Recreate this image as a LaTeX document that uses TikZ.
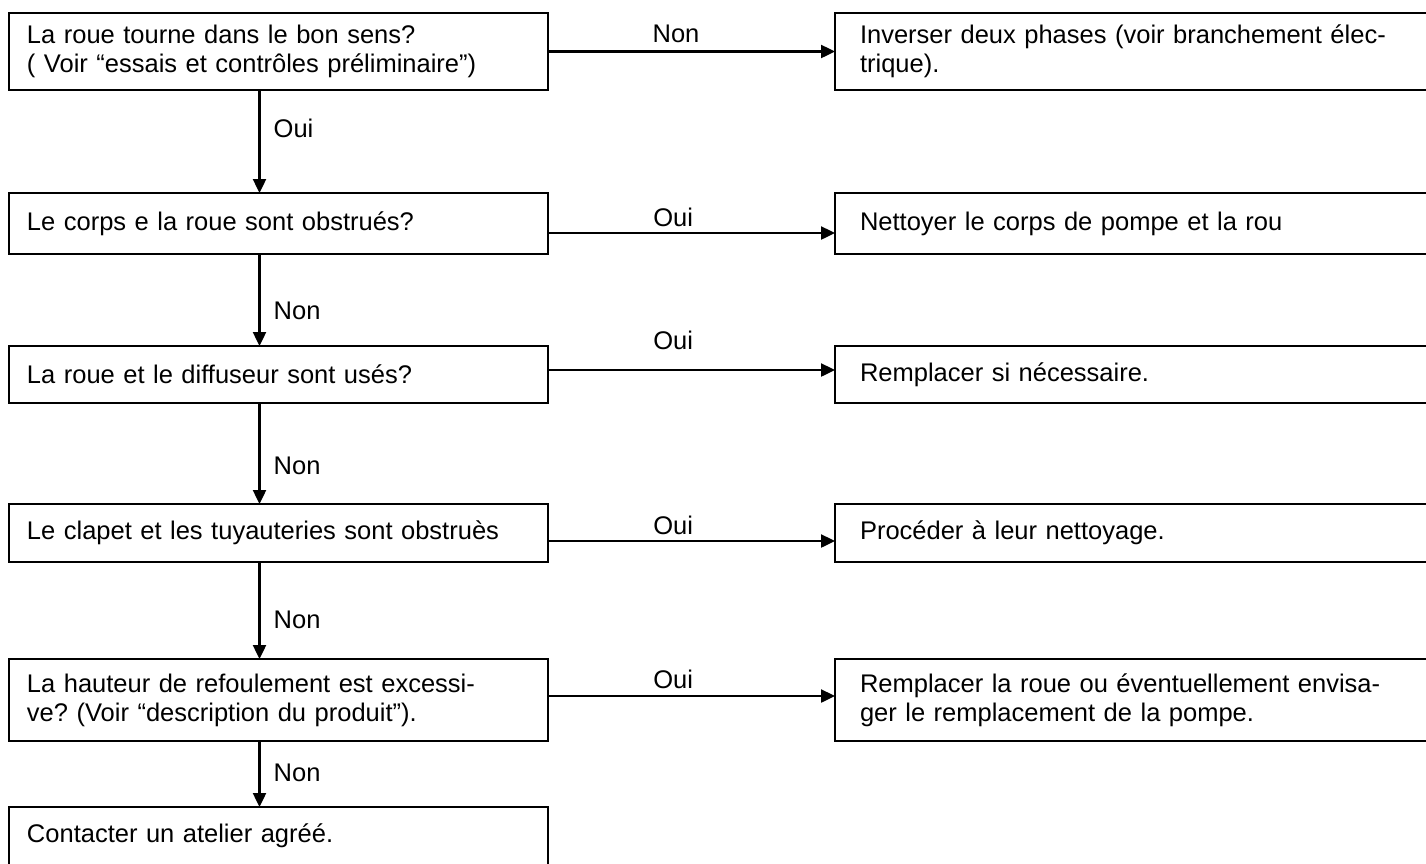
\documentclass[tikz,border=0pt]{standalone}
\usepackage{fontspec}
\setmainfont{Liberation Sans}
\usetikzlibrary{positioning,arrows.meta}
\frenchspacing

\begin{document}
\begin{tikzpicture}[x=1pt,y=-1pt,>={Triangle[length=14pt,width=13pt]},line width=2.4pt,question node/.style={rectangle,draw,outer sep=0pt,inner xsep=18pt,inner ysep=0pt,text width=503pt,align=left,font=\fontsize{25.5pt}{29pt}\selectfont},answer node/.style={rectangle,draw,outer sep=0pt,inner xsep=25pt,inner ysep=0pt,text width=600pt,align=left,font=\fontsize{25.5pt}{29pt}\selectfont},branch/.style={inner sep=0pt,font=\fontsize{25.5pt}{29pt}\selectfont}]

            \useasboundingbox (0,0) rectangle (1426,863);

            \node[question node, minimum height=77pt, anchor=north west] (q1) at (9,13) {La roue tourne dans le bon sens?\\( Voir “essais et contrôles préliminaire”)};
            \node[answer node, minimum height=77pt] (r1) [right=287pt of q1] {Inverser deux phases (voir branchement élec-\\trique).};

            \node[question node, minimum height=61pt] (q2) [below=103pt of q1] {Le corps e la roue sont obstrués?};
            \node[answer node, minimum height=61pt] (r2) [right=287pt of q2] {Nettoyer le corps de pompe et la rou};

            \node[question node, minimum height=57pt] (q3) [below=92pt of q2] {La roue et le diffuseur sont usés?};
            \node[answer node, minimum height=57pt] (r3) [right=287pt of q3] {Remplacer si nécessaire.};

            \node[question node, minimum height=58pt] (q4) [below=101pt of q3] {Le clapet et les tuyauteries sont obstruès};
            \node[answer node, minimum height=58pt] (r4) [right=287pt of q4] {Procéder à leur nettoyage.};

            \node[question node, minimum height=82pt] (q5) [below=97pt of q4] {La hauteur de refoulement est excessi-\\ve? (Voir “description du produit”).};
            \node[answer node, minimum height=82pt] (r5) [right=287pt of q5] {Remplacer la roue ou éventuellement envisa-\\ger le remplacement de la pompe.};

            \node[question node, minimum height=58pt] (q6) [below=66pt of q5] {Contacter un atelier agréé.};

            \path[->]
                ([xshift=-19pt]q1.south) edge node[branch, right=13pt, pos=0.37] {Oui} ([xshift=-19pt]q2.north)
                ([xshift=-19pt]q2.south) edge node[branch, right=13pt, pos=0.62] {Non} ([xshift=-19pt]q3.north)
                ([xshift=-19pt]q3.south) edge node[branch, right=13pt, pos=0.62] {Non} ([xshift=-19pt]q4.north)
                ([xshift=-19pt]q4.south) edge node[branch, right=13pt, pos=0.6] {Non} ([xshift=-19pt]q5.north)
                ([xshift=-19pt]q5.south) edge node[branch, right=13pt, pos=0.48] {Non} ([xshift=-19pt]q6.north)
                (q1.east) edge node[branch, above=8pt, pos=0.446] {Non} (r1.west)
                ([yshift=-9.5pt]q2.east) edge node[branch, above=5pt, pos=0.436] {Oui} ([yshift=-9.5pt]r2.west)
                ([yshift=4.5pt]q3.east) edge node[branch, above=19pt, pos=0.436] {Oui} ([yshift=4.5pt]r3.west)
                ([yshift=-8pt]q4.east) edge node[branch, above=5pt, pos=0.436] {Oui} ([yshift=-8pt]r4.west)
                ([yshift=4pt]q5.east) edge node[branch, above=6pt, pos=0.436] {Oui} ([yshift=4pt]r5.west)
                ;
        \end{tikzpicture}
\end{document}
